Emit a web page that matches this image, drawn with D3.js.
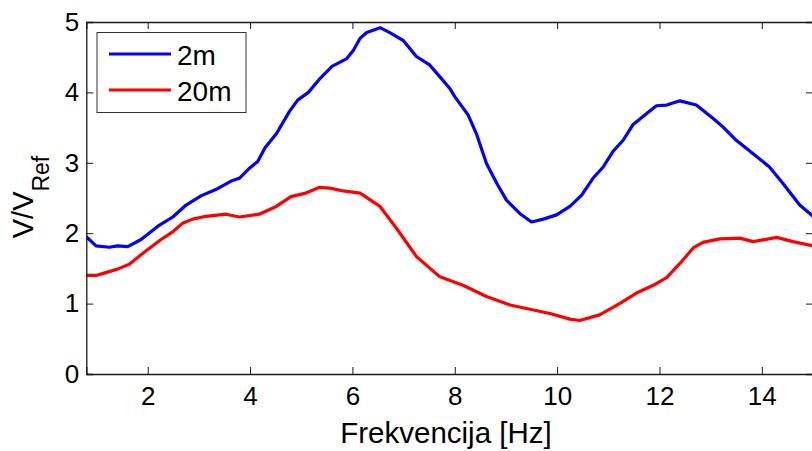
<!DOCTYPE html>
<html>
<head>
<meta charset="utf-8">
<script src="https://cdn.jsdelivr.net/npm/d3@7"></script>
<style>
  html, body { margin: 0; padding: 0; background: #fff; }
  svg { display: block; font-family: "Liberation Sans", Arial, Helvetica, sans-serif; }
</style>
</head>
<body>
<svg id="chart" width="812" height="451"></svg>
<script>
// ---- data ----
const freq2m = [0.8, 0.99, 1.25, 1.41, 1.61, 1.87, 2.20, 2.49, 2.75, 3.04, 3.33, 3.63, 3.79, 4.0, 4.15, 4.29, 4.52, 4.77, 4.93, 5.14, 5.37, 5.60, 5.89, 6.02, 6.15, 6.28, 6.54, 6.73, 6.99, 7.25, 7.51, 7.71, 7.90, 8.00, 8.26, 8.43, 8.62, 8.82, 9.01, 9.27, 9.50, 9.73, 9.99, 10.25, 10.48, 10.70, 10.90, 11.09, 11.29, 11.48, 11.75, 11.94, 12.14, 12.40, 12.72, 13.05, 13.24, 13.50, 13.83, 14.15, 14.41, 14.74, 15.0];
const v2m = [1.95, 1.82, 1.80, 1.82, 1.81, 1.91, 2.10, 2.23, 2.40, 2.53, 2.62, 2.74, 2.78, 2.93, 3.02, 3.21, 3.42, 3.73, 3.89, 4.00, 4.20, 4.37, 4.48, 4.60, 4.77, 4.85, 4.92, 4.85, 4.74, 4.51, 4.39, 4.22, 4.06, 3.94, 3.68, 3.40, 2.99, 2.71, 2.47, 2.28, 2.16, 2.20, 2.26, 2.38, 2.54, 2.78, 2.94, 3.16, 3.32, 3.54, 3.70, 3.81, 3.82, 3.88, 3.82, 3.63, 3.51, 3.32, 3.13, 2.94, 2.71, 2.40, 2.24];
const freq20m = [0.8, 0.99, 1.18, 1.41, 1.64, 1.90, 2.26, 2.49, 2.68, 2.88, 3.14, 3.53, 3.79, 4.18, 4.51, 4.80, 5.09, 5.35, 5.56, 5.82, 6.15, 6.54, 6.86, 7.25, 7.71, 8.16, 8.62, 9.08, 9.47, 9.86, 10.25, 10.44, 10.83, 11.22, 11.55, 11.88, 12.14, 12.40, 12.66, 12.85, 13.18, 13.57, 13.83, 14.29, 14.61, 15.0];
const v20m = [1.40, 1.40, 1.44, 1.49, 1.56, 1.71, 1.91, 2.02, 2.14, 2.20, 2.24, 2.27, 2.23, 2.27, 2.38, 2.52, 2.57, 2.65, 2.64, 2.60, 2.57, 2.38, 2.07, 1.67, 1.38, 1.26, 1.10, 0.98, 0.92, 0.86, 0.78, 0.76, 0.84, 1.00, 1.15, 1.26, 1.37, 1.57, 1.79, 1.87, 1.92, 1.93, 1.88, 1.94, 1.88, 1.82];
const xTicks = [2, 4, 6, 8, 10, 12, 14];
const yTicks = [0, 1, 2, 3, 4, 5];
const seriesNames = ["2m", "20m"];
const seriesColors = ["#0000ff", "#ff0000"];
const xLabel = "Frekvencija [Hz]";
const yLabelMain = "V/V";
const yLabelSub = "Ref";

// ---- layout ----
const svg = d3.select("#chart");
const L = 86.3, R = 813, T = 22, B = 374;
const x = d3.scaleLinear().domain([0.8, 15]).range([L, R]);
const y = d3.scaleLinear().domain([0, 5]).range([B, T]);

const series = [
  { name: seriesNames[0], color: seriesColors[0], pts: freq2m.map((f, i) => [f, v2m[i]]) },
  { name: seriesNames[1], color: seriesColors[1], pts: freq20m.map((f, i) => [f, v20m[i]]) }
];

const line = d3.line().x(d => x(d[0])).y(d => y(d[1])).curve(d3.curveLinear);

svg.append("clipPath").attr("id", "clip")
  .append("rect").attr("x", L).attr("y", T - 2).attr("width", R - L).attr("height", B - T + 2);

svg.append("g").attr("clip-path", "url(#clip)")
  .selectAll("path").data(series).join("path")
  .attr("d", d => line(d.pts))
  .attr("fill", "none")
  .attr("stroke", d => d.color)
  .attr("stroke-width", 3.2)
  .attr("stroke-linejoin", "round");

// axes
const tickLen = 7;
const axColor = "#1a1a1a";
const gx = svg.append("g").attr("transform", `translate(0,${B})`)
  .call(d3.axisBottom(x).tickValues(xTicks).tickSize(-tickLen).tickPadding(13).tickFormat(d3.format("d")));
const gy = svg.append("g").attr("transform", `translate(${L},0)`)
  .call(d3.axisLeft(y).tickValues(yTicks).tickSize(-tickLen).tickPadding(7).tickFormat(d3.format("d")));
const gxt = svg.append("g").attr("transform", `translate(0,${T})`)
  .call(d3.axisTop(x).tickValues(xTicks).tickSize(-tickLen).tickFormat(""));
const gyr = svg.append("g").attr("transform", `translate(${R},0)`)
  .call(d3.axisRight(y).tickValues(yTicks).tickSize(-tickLen).tickFormat(""));

[gx, gy, gxt, gyr].forEach(g => {
  g.select(".domain").attr("stroke", axColor).attr("stroke-width", 1.3);
  g.selectAll(".tick line").attr("stroke", axColor).attr("stroke-width", 1);
  g.selectAll("text").attr("fill", "#000").attr("font-size", 26)
    .attr("font-family", "'Liberation Sans', Arial, sans-serif");
});

// axis labels
svg.append("text")
  .attr("x", 446).attr("y", 443)
  .attr("text-anchor", "middle")
  .attr("font-size", 29.5)
  .text(xLabel);

const yl = svg.append("text")
  .attr("transform", "translate(33,197) rotate(-90)")
  .attr("text-anchor", "middle")
  .attr("font-size", 29);
yl.append("tspan").text(yLabelMain);
yl.append("tspan").attr("font-size", 23).attr("dy", 16).text(yLabelSub);

// legend
const lg = svg.append("g");
lg.append("rect").attr("x", 97).attr("y", 32.5).attr("width", 149).attr("height", 80)
  .attr("fill", "#fff").attr("stroke", "#333").attr("stroke-width", 1);
const rows = lg.selectAll("g.row").data(series).join("g").attr("class", "row")
  .attr("transform", (d, i) => `translate(0,${54 + i * 36})`);
rows.append("line").attr("x1", 109).attr("x2", 171).attr("y1", 0).attr("y2", 0)
  .attr("stroke", d => d.color).attr("stroke-width", 3.2);
rows.append("text").attr("x", 177).attr("y", 11).attr("font-size", 28).text(d => d.name);
</script>
</body>
</html>
